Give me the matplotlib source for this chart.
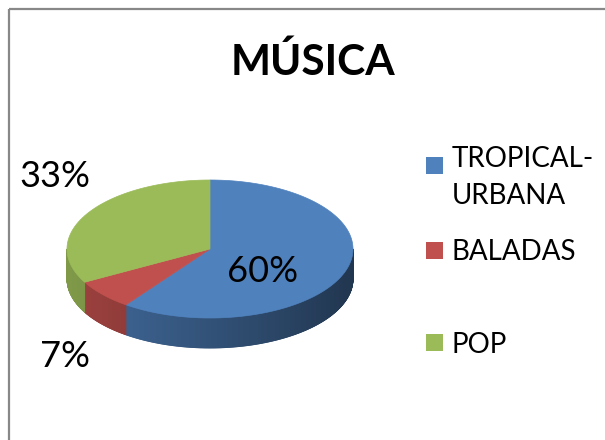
import numpy as np
import matplotlib
matplotlib.use('Agg')
import matplotlib.pyplot as plt
from matplotlib.patches import Polygon, Rectangle
from matplotlib.collections import PolyCollection
import matplotlib.colors as mcolors

# ---- data ----
title = "MÚSICA"
categories = ["TROPICAL-\nURBANA", "BALADAS", "POP"]
values = [60, 7, 33]
colors = ["#4F81BD", "#C0504D", "#9BBB59"]

FONT = ["Lato", "DejaVu Sans"]

W, H = 605, 440
fig = plt.figure(figsize=(W / 100, H / 100), dpi=100)
ax = fig.add_axes([0, 0, 1, 1])
ax.set_xlim(0, W)
ax.set_ylim(H, 0)
ax.axis('off')

# chart area border (top and left visible)
ax.plot([9, W], [9.5, 9.5], color="#888888", lw=1.6, solid_capstyle='butt')
ax.plot([9, 9], [9.5, H], color="#888888", lw=1.6, solid_capstyle='butt')

# pie geometry (layout)
cx, cy, rx, ry, depth = 210, 249, 143, 69, 30


def pt(theta_deg):
    t = np.radians(theta_deg)
    return cx + rx * np.sin(t), cy - ry * np.cos(t)


fracs = np.array(values, dtype=float) / sum(values)
bounds = np.concatenate([[0], np.cumsum(fracs) * 360])


def shade(x):
    t = np.clip((x - (cx - rx)) / (2 * rx), 0, 1)
    return 0.82 - 0.40 * t ** 1.1


# side walls (front half only)
for i, c in enumerate(colors):
    a0, a1 = bounds[i], bounds[i + 1]
    lo, hi = max(a0, 90), min(a1, 270)
    if lo >= hi:
        continue
    n = max(int((hi - lo) * 3), 2)
    ts = np.linspace(lo, hi, n + 1)
    polys, cols = [], []
    base = np.array(mcolors.to_rgb(c))
    for t0, t1 in zip(ts[:-1], ts[1:]):
        x0, y0 = pt(t0)
        x1, y1 = pt(t1)
        polys.append([(x0, y0), (x1, y1), (x1, y1 + depth), (x0, y0 + depth)])
        cols.append(np.clip(base * shade((x0 + x1) / 2), 0, 1))
    ax.add_collection(PolyCollection(polys, facecolors=cols, edgecolors=cols,
                                     linewidths=0.6, antialiased=True))

# top faces
for i, c in enumerate(colors):
    a0, a1 = bounds[i], bounds[i + 1]
    ts = np.linspace(a0, a1, 200)
    xs, ys = pt(ts)
    verts = [(cx, cy)] + list(zip(xs, ys))
    ax.add_patch(Polygon(verts, closed=True, facecolor=c, edgecolor=c, lw=0.5))

# percentage labels
pct_text = [f"{v}%" for v in values]
label_pos = [(263, 282), (65, 367), (55, 187)]
for txt, (lx, ly) in zip(pct_text, label_pos):
    ax.text(lx, ly, txt, ha='center', va='baseline', fontsize=26,
            family=FONT, color='black')

# title
ax.text(313, 75, title, ha='center', va='baseline', fontsize=30.5,
        fontweight='bold', family=FONT, color='black')

# legend
leg_rows = [(157, [167, 204]), (242, [260]), (334, [353])]
for c, lab, (sy, baselines) in zip(colors, categories, leg_rows):
    ax.add_patch(Rectangle((426, sy), 17, 17, facecolor=c, edgecolor='none'))
    for line, by in zip(lab.split("\n"), baselines):
        ax.text(452, by, line, ha='left', va='baseline', fontsize=20,
                family=FONT, color='black')

fig.savefig("out.png", dpi=100, facecolor='white')
